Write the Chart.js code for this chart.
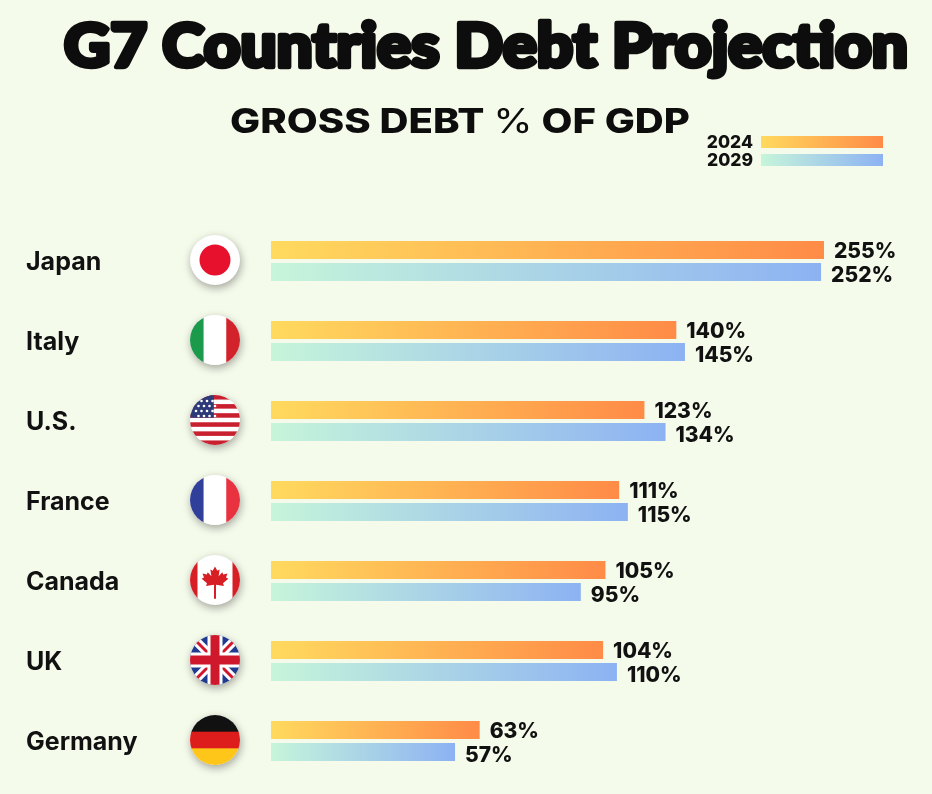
<!DOCTYPE html>
<html>
<head>
<meta charset="utf-8">
<title>G7 Countries Debt Projection</title>
<script src="https://cdn.jsdelivr.net/npm/chart.js@4"></script>
<style>
  html, body { margin: 0; padding: 0; background: #f5fbeb; }
  canvas { display: block; }
</style>
</head>
<body>
<canvas id="debtChart" width="932" height="794"></canvas>
<script>
// Chart data
const countries = ['Japan', 'Italy', 'U.S.', 'France', 'Canada', 'UK', 'Germany'];
const flagCodes = ['jp', 'it', 'us', 'fr', 'ca', 'uk', 'de'];
const seriesYears = ['2024', '2029'];
const debt2024 = [255, 140, 123, 111, 105, 104, 63];
const debt2029 = [252, 145, 134, 115, 95, 110, 57];

const mainTitle = 'G7 Countries Debt Projection';
const subTitle = ['GROSS DEBT ', '%', ' OF GDP'];

// Gradient stops for each series (left -> right)
const grad2024 = ['#ffda5e', '#ff8b47'];
const grad2029 = ['#c6f5da', '#8db2f3'];
const BG = '#f5fbeb';

function barGradient(context, stops) {
    const chart = context.chart;
    const area = chart.chartArea;
    if (!area || context.raw === undefined) return stops[1];
    const x0 = area.left;
    const x1 = chart.scales.x.getPixelForValue(context.raw);
    const g = chart.ctx.createLinearGradient(x0, 0, Math.max(x1, x0 + 1), 0);
    g.addColorStop(0, stops[0]);
    g.addColorStop(1, stops[1]);
    return g;
}

function mapleLeaf(ctx, cx, cy, s) {
    const pts = [[0,-1],[0.16,-0.7],[0.32,-0.8],[0.25,-0.32],[0.5,-0.6],[0.57,-0.45],[0.86,-0.52],[0.76,-0.24],[0.92,-0.16],
        [0.55,0.16],[0.62,0.34],[0.07,0.26],[0.07,0.72],[-0.07,0.72],[-0.07,0.26],[-0.62,0.34],[-0.55,0.16],
        [-0.92,-0.16],[-0.76,-0.24],[-0.86,-0.52],[-0.57,-0.45],[-0.5,-0.6],[-0.25,-0.32],[-0.32,-0.8],[-0.16,-0.7]];
    ctx.beginPath();
    pts.forEach((p, i) => {
        const px = cx + p[0] * s, py = cy + p[1] * s;
        if (i === 0) ctx.moveTo(px, py); else ctx.lineTo(px, py);
    });
    ctx.closePath();
    ctx.fill();
}

function drawFlag(ctx, code, cx, cy, r) {
    ctx.save();
    ctx.shadowColor = 'rgba(0,0,0,0.35)';
    ctx.shadowBlur = 9;
    ctx.shadowOffsetX = 1;
    ctx.shadowOffsetY = 3;
    ctx.beginPath();
    ctx.arc(cx, cy, r, 0, Math.PI * 2);
    ctx.fillStyle = '#ffffff';
    ctx.fill();
    ctx.restore();

    ctx.save();
    ctx.beginPath();
    ctx.arc(cx, cy, r, 0, Math.PI * 2);
    ctx.clip();
    const L = cx - r, T = cy - r, D = 2 * r;
    if (code === 'jp') {
        ctx.fillStyle = '#e8112d';
        ctx.beginPath();
        ctx.arc(cx, cy, r * 0.62, 0, Math.PI * 2);
        ctx.fill();
    } else if (code === 'it' || code === 'fr') {
        const cols = code === 'it' ? ['#1a9a4a', '#ffffff', '#d2232c'] : ['#2f3f9a', '#ffffff', '#e8323f'];
        const side = r * 0.55;
        ctx.fillStyle = cols[0]; ctx.fillRect(L, T, side, D);
        ctx.fillStyle = cols[1]; ctx.fillRect(L + side, T, D - 2 * side, D);
        ctx.fillStyle = cols[2]; ctx.fillRect(L + D - side, T, side, D);
    } else if (code === 'de') {
        const cols = ['#111111', '#dd1c1c', '#ffc61a'];
        cols.forEach((c, i) => { ctx.fillStyle = c; ctx.fillRect(L, T + i * D / 3, D, D / 3 + 1); });
    } else if (code === 'us') {
        const n = 11, h = D / n;
        for (let i = 0; i < n; i++) {
            ctx.fillStyle = i % 2 === 0 ? '#c8202f' : '#ffffff';
            ctx.fillRect(L, T + i * h, D, h + 0.5);
        }
        ctx.fillStyle = '#2c3a78';
        ctx.fillRect(L, T, r * 0.95, h * 5);
        ctx.fillStyle = '#ffffff';
        for (let row = 0; row < 4; row++) {
            for (let col = 0; col < 4; col++) {
                ctx.beginPath();
                ctx.arc(L + 6 + col * 5.5 + (row % 2) * 2.5, T + 6 + row * 5, 1.3, 0, Math.PI * 2);
                ctx.fill();
            }
        }
    } else if (code === 'ca') {
        ctx.fillStyle = '#d81e25';
        ctx.fillRect(L, T, r * 0.3, D);
        ctx.fillRect(L + D - r * 0.3, T, r * 0.3, D);
        mapleLeaf(ctx, cx, cy + 1, r * 0.58);
        ctx.fillRect(cx - 1, cy + r * 0.3, 2, r * 0.45);
    } else if (code === 'uk') {
        ctx.fillStyle = '#1f3a8f';
        ctx.fillRect(L, T, D, D);
        ctx.strokeStyle = '#ffffff';
        ctx.lineWidth = r * 0.36;
        ctx.beginPath();
        ctx.moveTo(L, T); ctx.lineTo(L + D, T + D);
        ctx.moveTo(L + D, T); ctx.lineTo(L, T + D);
        ctx.stroke();
        ctx.strokeStyle = '#d0182c';
        ctx.lineWidth = r * 0.12;
        ctx.stroke();
        ctx.fillStyle = '#ffffff';
        ctx.fillRect(cx - r * 0.3, T, r * 0.6, D);
        ctx.fillRect(L, cy - r * 0.3, D, r * 0.6);
        ctx.fillStyle = '#d0182c';
        ctx.fillRect(cx - r * 0.18, T, r * 0.36, D);
        ctx.fillRect(L, cy - r * 0.18, D, r * 0.36);
    }
    ctx.restore();
}

// Plugin: background, titles, legend, country names, flags, value labels
const infographicPlugin = {
    id: 'infographic',
    beforeDraw(chart) {
        const ctx = chart.ctx;
        ctx.save();
        ctx.fillStyle = BG;
        ctx.fillRect(0, 0, chart.width, chart.height);

        // Main title, stroked to make it extra heavy
        ctx.fillStyle = '#0d0d0d';
        ctx.strokeStyle = '#0d0d0d';
        ctx.lineJoin = 'round';
        ctx.textBaseline = 'alphabetic';
        ctx.font = '900 58px Lato';
        const tw = ctx.measureText(mainTitle).width;
        ctx.save();
        ctx.translate(64, 67);
        ctx.scale(844 / tw, 1.04);
        ctx.lineWidth = 4.5;
        ctx.strokeText(mainTitle, 0, 0);
        ctx.fillText(mainTitle, 0, 0);
        ctx.restore();

        // Subtitle, "%" in a lighter weight
        const parts = subTitle.map((t, i) => {
            ctx.font = i === 1 ? '400 34px Inter' : '800 34px Inter';
            return ctx.measureText(t).width;
        });
        const total = parts.reduce((a, b) => a + b, 0);
        const k = 460 / total;
        let x = 230;
        subTitle.forEach((t, i) => {
            ctx.font = i === 1 ? '400 34px Inter' : '800 34px Inter';
            ctx.save();
            ctx.translate(x, 133);
            ctx.scale(k, 1);
            ctx.fillText(t, 0, 0);
            ctx.restore();
            x += parts[i] * k;
        });

        // Legend
        const legendGrads = [grad2024, grad2029];
        const legendY = [142, 160];
        ctx.font = '800 17.5px Inter';
        ctx.textAlign = 'right';
        ctx.textBaseline = 'middle';
        seriesYears.forEach((yr, i) => {
            ctx.fillStyle = '#111111';
            ctx.fillText(yr, 753, legendY[i] + 1);
            const g = ctx.createLinearGradient(761, 0, 883, 0);
            g.addColorStop(0, legendGrads[i][0]);
            g.addColorStop(1, legendGrads[i][1]);
            ctx.fillStyle = g;
            ctx.fillRect(761, legendY[i] - 6, 122, 12);
        });
        ctx.restore();
    },
    afterDatasetsDraw(chart) {
        const ctx = chart.ctx;
        const yScale = chart.scales.y;
        ctx.save();
        // Country names and flags
        countries.forEach((name, i) => {
            const cy = yScale.getPixelForValue(i);
            ctx.fillStyle = '#111111';
            ctx.font = '700 25px Inter';
            ctx.textAlign = 'left';
            ctx.textBaseline = 'middle';
            ctx.fillText(name, 26, cy + 1);
            drawFlag(ctx, flagCodes[i], 215, cy - 1, 25);
        });
        // Value labels at the bar ends
        ctx.font = '800 21px Inter';
        ctx.fillStyle = '#111111';
        ctx.textAlign = 'left';
        ctx.textBaseline = 'middle';
        chart.data.datasets.forEach((ds, d) => {
            const meta = chart.getDatasetMeta(d);
            meta.data.forEach((bar, i) => {
                ctx.fillText(ds.data[i] + '%', bar.x + 10, bar.y + (d === 0 ? 2 : 4));
            });
        });
        ctx.restore();
    }
};

const ctx = document.getElementById('debtChart').getContext('2d');
new Chart(ctx, {
    type: 'bar',
    data: {
        labels: countries,
        datasets: [
            {
                label: seriesYears[0],
                data: debt2024,
                backgroundColor: (c) => barGradient(c, grad2024),
                categoryPercentage: 0.55,
                barPercentage: 0.82
            },
            {
                label: seriesYears[1],
                data: debt2029,
                backgroundColor: (c) => barGradient(c, grad2029),
                categoryPercentage: 0.55,
                barPercentage: 0.82
            }
        ]
    },
    options: {
        indexAxis: 'y',
        responsive: false,
        animation: false,
        layout: { padding: { left: 271, right: 68, top: 221, bottom: 13 } },
        plugins: {
            legend: { display: false },
            title: { display: false },
            tooltip: { enabled: false }
        },
        scales: {
            x: {
                type: 'logarithmic',
                min: 27,
                max: 300,
                bounds: 'data',
                display: false
            },
            y: {
                display: false,
                grid: { display: false }
            }
        }
    },
    plugins: [infographicPlugin]
});
</script>
</body>
</html>
